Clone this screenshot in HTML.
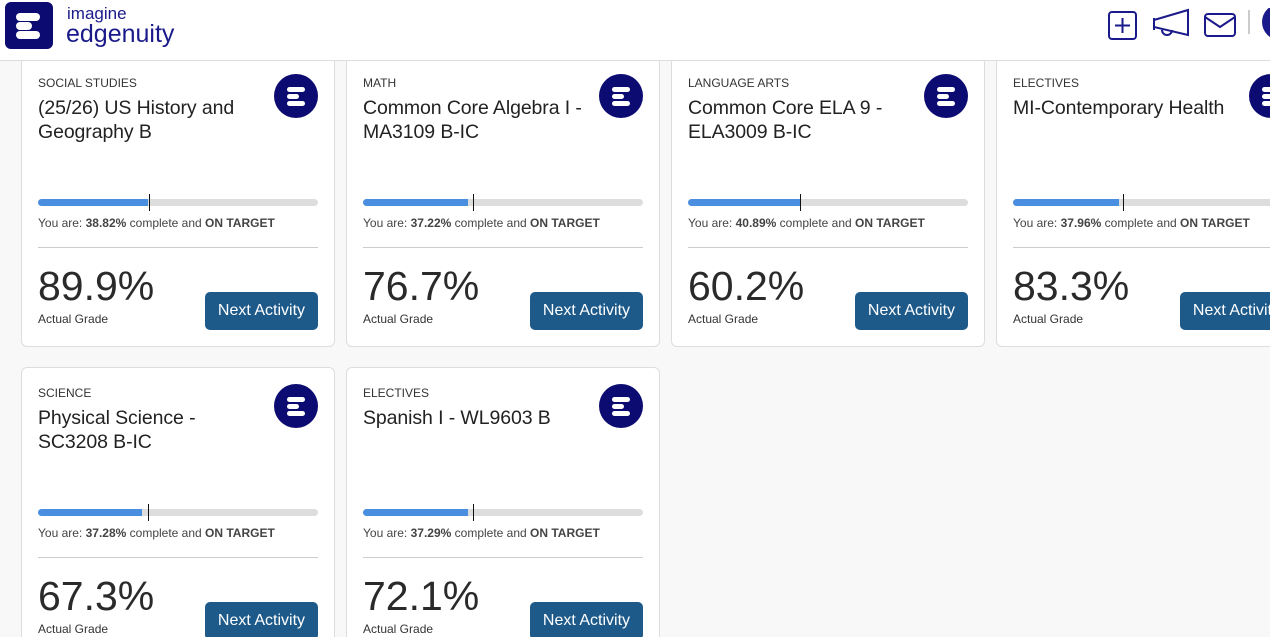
<!DOCTYPE html>
<html><head><meta charset="utf-8"><style>
*{box-sizing:border-box;margin:0;padding:0}
html,body{width:1270px;height:637px;overflow:hidden}
body{background:#f8f8f8;font-family:"Liberation Sans",sans-serif;position:relative}
.hdr{position:absolute;left:0;top:0;width:1270px;height:61px;background:#fff;border-bottom:1px solid #ddd;z-index:5}
.logo{position:absolute;left:5px;top:2px;width:48px;height:47px;background:#0b0b72;border-radius:6px}
.logo i{position:absolute;left:11px;height:8px;background:#fff;border-radius:4px}
.lt1{position:absolute;left:67px;top:4px;font-size:17px;color:#1a1a8a}
.lt2{position:absolute;left:66px;top:20px;font-size:25px;color:#1a1a8a}
.card{position:absolute;width:314px;height:290px;background:#fff;border:1px solid #ddd;border-radius:6px}
.cat{position:absolute;left:16px;top:18px;font-size:12px;color:#333}
.ttl{position:absolute;left:16px;top:38px;width:232px;font-size:19.5px;line-height:24px;color:#222;letter-spacing:-0.1px}
.ic{position:absolute;left:252px;top:16px;width:44px;height:44px;border-radius:50%;background:#0b0b72}
.ic i{position:absolute;height:5px;background:#fff;border-radius:3px}
.bar{position:absolute;left:16px;top:141px;width:280px;height:7px;background:#ddd;border-radius:4px;overflow:hidden}
.bar b{display:block;height:7px;background:#4a8fdf}
.mk{position:absolute;top:136px;width:1px;height:17px;background:#111}
.pt{position:absolute;left:16px;top:158px;font-size:12px;color:#444;white-space:nowrap}
.hr{position:absolute;left:16px;top:189px;width:280px;height:1px;background:#ccc}
.gr{position:absolute;left:16px;top:205px;font-size:41px;color:#2a2a2a}
.ag{position:absolute;left:16px;top:254px;font-size:12px;color:#333}
.btn{position:absolute;left:183px;top:234px;width:113px;height:38px;background:#1d5a8a;border-radius:5px;color:#fff;font-size:16px;line-height:38px;text-align:center}
</style></head><body>
<div class="hdr">
 <div class="logo"><i style="top:11px;width:24px"></i><i style="top:20px;width:16px"></i><i style="top:29px;width:24px"></i></div>
 <div class="lt1">imagine</div><div class="lt2">edgenuity</div>
 <svg style="position:absolute;left:1100px;top:8px" width="170" height="36" viewBox="0 0 170 36">
  <g fill="none" stroke="#1a1a8a" stroke-width="2">
   <rect x="9" y="4" width="27" height="27" rx="3"/><path d="M22.5 10v15M15 17.5h15"/>
   <path d="M54 12l34-10v25l-34-8z"/><path d="M54 10v12"/><path d="M62 22a5 5 0 0 0 10 0"/>
   <rect x="105" y="6" width="30" height="22" rx="3"/><path d="M105 9l15 10 15-10"/>
  </g>
  <path d="M149 2v24" stroke="#999" stroke-width="1"/>
  <circle cx="180" cy="14" r="18" fill="#1a1a8a"/>
 </svg>
</div>

<div class="card" style="left:21px;top:57px">
 <div class="cat">SOCIAL STUDIES</div><div class="ttl">(25/26) US History and Geography B</div>
 <div class="ic"><i style="left:13px;top:13px;width:18px"></i><i style="left:13px;top:20px;width:12px"></i><i style="left:13px;top:27px;width:18px"></i></div>
 <div class="bar"><b style="width:110px"></b></div><div class="mk" style="left:127px"></div>
 <div class="pt">You are: <b>38.82%</b> complete and <b>ON TARGET</b></div><div class="hr"></div>
 <div class="gr">89.9%</div><div class="ag">Actual Grade</div><div class="btn">Next Activity</div>
</div>
<div class="card" style="left:346px;top:57px">
 <div class="cat">MATH</div><div class="ttl">Common Core Algebra I -<br>MA3109 B-IC</div>
 <div class="ic"><i style="left:13px;top:13px;width:18px"></i><i style="left:13px;top:20px;width:12px"></i><i style="left:13px;top:27px;width:18px"></i></div>
 <div class="bar"><b style="width:105px"></b></div><div class="mk" style="left:126px"></div>
 <div class="pt">You are: <b>37.22%</b> complete and <b>ON TARGET</b></div><div class="hr"></div>
 <div class="gr">76.7%</div><div class="ag">Actual Grade</div><div class="btn">Next Activity</div>
</div>
<div class="card" style="left:671px;top:57px">
 <div class="cat">LANGUAGE ARTS</div><div class="ttl">Common Core ELA 9 -<br>ELA3009 B-IC</div>
 <div class="ic"><i style="left:13px;top:13px;width:18px"></i><i style="left:13px;top:20px;width:12px"></i><i style="left:13px;top:27px;width:18px"></i></div>
 <div class="bar"><b style="width:113px"></b></div><div class="mk" style="left:128px"></div>
 <div class="pt">You are: <b>40.89%</b> complete and <b>ON TARGET</b></div><div class="hr"></div>
 <div class="gr">60.2%</div><div class="ag">Actual Grade</div><div class="btn">Next Activity</div>
</div>
<div class="card" style="left:996px;top:57px">
 <div class="cat">ELECTIVES</div><div class="ttl">MI-Contemporary Health</div>
 <div class="ic"><i style="left:13px;top:13px;width:18px"></i><i style="left:13px;top:20px;width:12px"></i><i style="left:13px;top:27px;width:18px"></i></div>
 <div class="bar"><b style="width:106px"></b></div><div class="mk" style="left:126px"></div>
 <div class="pt">You are: <b>37.96%</b> complete and <b>ON TARGET</b></div><div class="hr"></div>
 <div class="gr">83.3%</div><div class="ag">Actual Grade</div><div class="btn">Next Activity</div>
</div>
<div class="card" style="left:21px;top:367px">
 <div class="cat">SCIENCE</div><div class="ttl">Physical Science -<br>SC3208 B-IC</div>
 <div class="ic"><i style="left:13px;top:13px;width:18px"></i><i style="left:13px;top:20px;width:12px"></i><i style="left:13px;top:27px;width:18px"></i></div>
 <div class="bar"><b style="width:104px"></b></div><div class="mk" style="left:126px"></div>
 <div class="pt">You are: <b>37.28%</b> complete and <b>ON TARGET</b></div><div class="hr"></div>
 <div class="gr">67.3%</div><div class="ag">Actual Grade</div><div class="btn">Next Activity</div>
</div>
<div class="card" style="left:346px;top:367px">
 <div class="cat">ELECTIVES</div><div class="ttl">Spanish I - WL9603 B</div>
 <div class="ic"><i style="left:13px;top:13px;width:18px"></i><i style="left:13px;top:20px;width:12px"></i><i style="left:13px;top:27px;width:18px"></i></div>
 <div class="bar"><b style="width:105px"></b></div><div class="mk" style="left:126px"></div>
 <div class="pt">You are: <b>37.29%</b> complete and <b>ON TARGET</b></div><div class="hr"></div>
 <div class="gr">72.1%</div><div class="ag">Actual Grade</div><div class="btn">Next Activity</div>
</div>
</body></html>
